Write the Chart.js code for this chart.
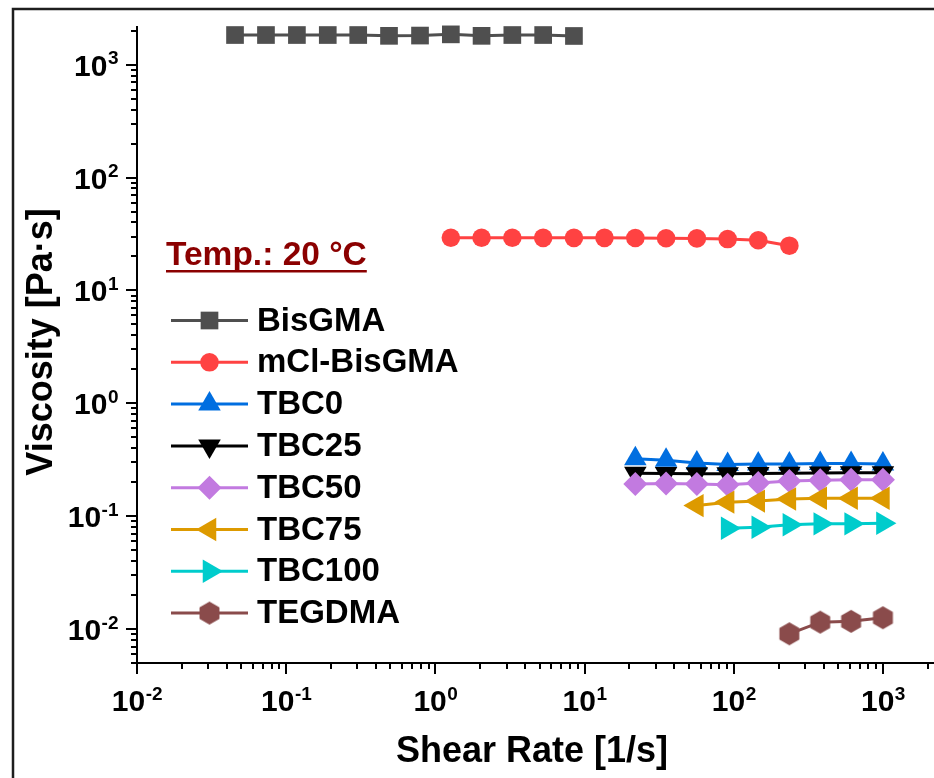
<!DOCTYPE html>
<html>
<head>
<meta charset="utf-8">
<script src="https://cdn.jsdelivr.net/npm/chart.js@4.4.1/dist/chart.umd.min.js"></script>
<style>
  html, body { margin: 0; padding: 0; background: #fff; }
  #wrap { width: 934px; height: 778px; }
</style>
</head>
<body>
<div id="wrap"><canvas id="chart" width="934" height="778"></canvas></div>
<script>
// values (shear rate in 1/s, viscosity in Pa·s)
const seriesNames = ['BisGMA', 'mCl-BisGMA', 'TBC0', 'TBC25', 'TBC50', 'TBC75', 'TBC100', 'TEGDMA'];

const shearBisGMA = [0.0454, 0.0732, 0.118, 0.19, 0.304, 0.489, 0.789, 1.27, 2.04, 3.28, 5.28, 8.49];
const viscBisGMA  = [1830, 1830, 1830, 1830, 1830, 1800, 1810, 1855, 1800, 1830, 1830, 1795];

const shearMCl = [1.27, 2.04, 3.28, 5.28, 8.49, 13.6, 21.9, 35.2, 56.6, 91.0, 146, 236];
const viscMCl  = [29.3, 29.3, 29.3, 29.2, 29.2, 29.2, 29.1, 29.0, 28.9, 28.5, 27.8, 24.9];

const shearTBC = [21.9, 35.2, 56.6, 91.0, 146, 236, 380, 612, 1000];
const viscTBC0  = [0.322, 0.313, 0.295, 0.287, 0.290, 0.290, 0.292, 0.292, 0.290];
const viscTBC25 = [0.240, 0.239, 0.238, 0.238, 0.239, 0.240, 0.241, 0.242, 0.242];
const viscTBC50 = [0.193, 0.195, 0.193, 0.190, 0.197, 0.205, 0.208, 0.210, 0.210];

const shearTBC75 = [56.6, 91.0, 146, 236, 380, 612, 1000];
const viscTBC75  = [0.124, 0.133, 0.136, 0.142, 0.144, 0.144, 0.144];

const shearTBC100 = [91.0, 146, 236, 380, 612, 1000];
const viscTBC100  = [0.0782, 0.0798, 0.0838, 0.0855, 0.0855, 0.0865];

const shearTEGDMA = [236, 380, 612, 1000];
const viscTEGDMA  = [0.00907, 0.0115, 0.0117, 0.0126];

const xTickPowers = [-2, -1, 0, 1, 2, 3];
const yTickPowers = [-2, -1, 0, 1, 2, 3];

const FONT = '"Liberation Sans", Arial, sans-serif';

function hexagon(color, r){
  const c = document.createElement('canvas');
  const s = Math.ceil(2 * r + 2);
  c.width = s; c.height = s;
  const g = c.getContext('2d');
  g.fillStyle = color;
  g.beginPath();
  for (let k = 0; k < 6; k++) {
    const a = -Math.PI / 2 + k * Math.PI / 3;
    const px = s / 2 + r * Math.cos(a), py = s / 2 + r * Math.sin(a);
    k ? g.lineTo(px, py) : g.moveTo(px, py);
  }
  g.closePath();
  g.fill();
  return c;
}

const looks = [
  { color: '#4f4f4f', style: 'rect',     radius: 12.5, rot: 0 },
  { color: '#ff4242', style: 'circle',   radius: 9.3,  rot: 0 },
  { color: '#006ee0', style: 'triangle', radius: 13,   rot: 0 },
  { color: '#000000', style: 'triangle', radius: 13,   rot: 180 },
  { color: '#c27ae0', style: 'rectRot',  radius: 12,   rot: 0 },
  { color: '#dd9a00', style: 'triangle', radius: 13.5, rot: 270 },
  { color: '#00cccc', style: 'triangle', radius: 13.5, rot: 90 },
  { color: '#8a4b4b', style: hexagon('#8a4b4b', 11.5), radius: 11.5, rot: 0 }
];

const xs = [shearBisGMA, shearMCl, shearTBC, shearTBC, shearTBC, shearTBC75, shearTBC100, shearTEGDMA];
const ys = [viscBisGMA, viscMCl, viscTBC0, viscTBC25, viscTBC50, viscTBC75, viscTBC100, viscTEGDMA];

const datasets = seriesNames.map((name, i) => ({
  label: name,
  data: xs[i].map((x, j) => ({ x, y: ys[i][j] })),
  borderColor: looks[i].color,
  backgroundColor: looks[i].color,
  borderWidth: 3,
  pointStyle: looks[i].style,
  pointRadius: looks[i].radius,
  pointRotation: looks[i].rot,
  pointBackgroundColor: looks[i].color,
  pointBorderColor: looks[i].color,
  pointBorderWidth: 0,
  tension: 0,
  clip: false,
  order: seriesNames.length - i
}));

function minorTicks(min, max){
  const out = [];
  for (let e = -4; e <= 4; e++) for (let k = 1; k <= 9; k++) {
    const v = k * Math.pow(10, e);
    if (v >= min * 0.999 && v <= max * 1.001) out.push({ v, major: k === 1 });
  }
  return out;
}

function drawPow(ctx, exp, x, baseline, align){
  ctx.font = 'bold 30px ' + FONT;
  const wb = ctx.measureText('10').width;
  ctx.font = 'bold 19px ' + FONT;
  const sup = String(exp);
  const ws = ctx.measureText(sup).width;
  const x0 = align === 'center' ? x - (wb + ws) / 2 : x - wb - ws;
  ctx.textAlign = 'left';
  ctx.textBaseline = 'alphabetic';
  ctx.font = 'bold 30px ' + FONT;
  ctx.fillText('10', x0, baseline);
  ctx.font = 'bold 19px ' + FONT;
  ctx.fillText(sup, x0 + wb + 0.5, baseline - 11.5);
}

const framePlugin = {
  id: 'frame',
  beforeDraw(chart){
    const ctx = chart.ctx;
    ctx.save();
    ctx.fillStyle = '#fff';
    ctx.fillRect(0, 0, chart.width, chart.height);
    ctx.strokeStyle = '#1e1e1e';
    ctx.lineWidth = 2.5;
    ctx.strokeRect(13, 9, chart.width + 20, chart.height + 20);
    ctx.restore();
  }
};

const axesPlugin = {
  id: 'logAxes',
  afterDraw(chart){
    const ctx = chart.ctx, a = chart.chartArea;
    const sx = chart.scales.x, sy = chart.scales.y;
    ctx.save();
    ctx.strokeStyle = '#000';
    ctx.fillStyle = '#000';
    ctx.lineWidth = 2;
    ctx.beginPath();
    ctx.moveTo(a.left, a.top); ctx.lineTo(a.left, a.bottom + 1);
    ctx.moveTo(a.left - 1, a.bottom); ctx.lineTo(a.right, a.bottom);
    ctx.stroke();

    ctx.beginPath();
    minorTicks(sy.min, sy.max).forEach(t => {
      const py = Math.round(sy.getPixelForValue(t.v));
      ctx.moveTo(a.left, py); ctx.lineTo(a.left - (t.major ? 11 : 6), py);
    });
    minorTicks(sx.min, sx.max).forEach(t => {
      const px = Math.round(sx.getPixelForValue(t.v));
      ctx.moveTo(px, a.bottom); ctx.lineTo(px, a.bottom + (t.major ? 11 : 6));
    });
    ctx.stroke();

    yTickPowers.forEach(p => {
      const py = sy.getPixelForValue(Math.pow(10, p));
      drawPow(ctx, p, a.left - 19, py + 11, 'right');
    });
    xTickPowers.forEach(p => {
      const px = sx.getPixelForValue(Math.pow(10, p));
      drawPow(ctx, p, px, a.bottom + 48, 'center');
    });

    ctx.font = 'bold 36px ' + FONT;
    ctx.textAlign = 'center';
    ctx.textBaseline = 'middle';
    ctx.fillText('Shear Rate [1/s]', 532, 752);
    ctx.save();
    ctx.translate(42, 342);
    ctx.rotate(-Math.PI / 2);
    ctx.fillText('Viscosity [Pa·s]', 0, 0);
    ctx.restore();
    ctx.restore();
  }
};

const legendPlugin = {
  id: 'insetLegend',
  afterDraw(chart){
    const ctx = chart.ctx;
    ctx.save();
    ctx.fillStyle = '#8b0000';
    ctx.font = 'bold 33.5px ' + FONT;
    ctx.textAlign = 'left';
    ctx.textBaseline = 'alphabetic';
    const t = 'Temp.: 20 °C';
    ctx.fillText(t, 166, 265);
    const tw = ctx.measureText(t).width;
    ctx.fillRect(166, 270, tw, 2.5);

    chart.data.datasets.forEach((ds, i) => {
      const y = 320.5 + i * 41.8;
      ctx.strokeStyle = ds.borderColor;
      ctx.fillStyle = ds.borderColor;
      ctx.lineWidth = 3;
      ctx.beginPath();
      ctx.moveTo(171, y); ctx.lineTo(248, y);
      ctx.stroke();
      Chart.helpers.drawPoint(ctx, {
        pointStyle: ds.pointStyle, rotation: ds.pointRotation,
        radius: ds.pointRadius, borderWidth: 0
      }, 209.5, y);
      ctx.fillStyle = '#000';
      ctx.font = 'bold 33px ' + FONT;
      ctx.textBaseline = 'middle';
      ctx.fillText(ds.label, 257, y + 1);
    });
    ctx.restore();
  }
};

new Chart(document.getElementById('chart'), {
  type: 'line',
  data: { datasets },
  options: {
    responsive: false,
    animation: false,
    layout: { autoPadding: false, padding: { left: 137, top: 26, right: 0, bottom: 115 } },
    plugins: { legend: { display: false }, tooltip: { enabled: false } },
    scales: {
      x: { type: 'logarithmic', min: 0.01, max: 2200, display: false },
      y: { type: 'logarithmic', min: 0.005, max: 2200, display: false }
    }
  },
  plugins: [framePlugin, axesPlugin, legendPlugin]
});
</script>
</body>
</html>
